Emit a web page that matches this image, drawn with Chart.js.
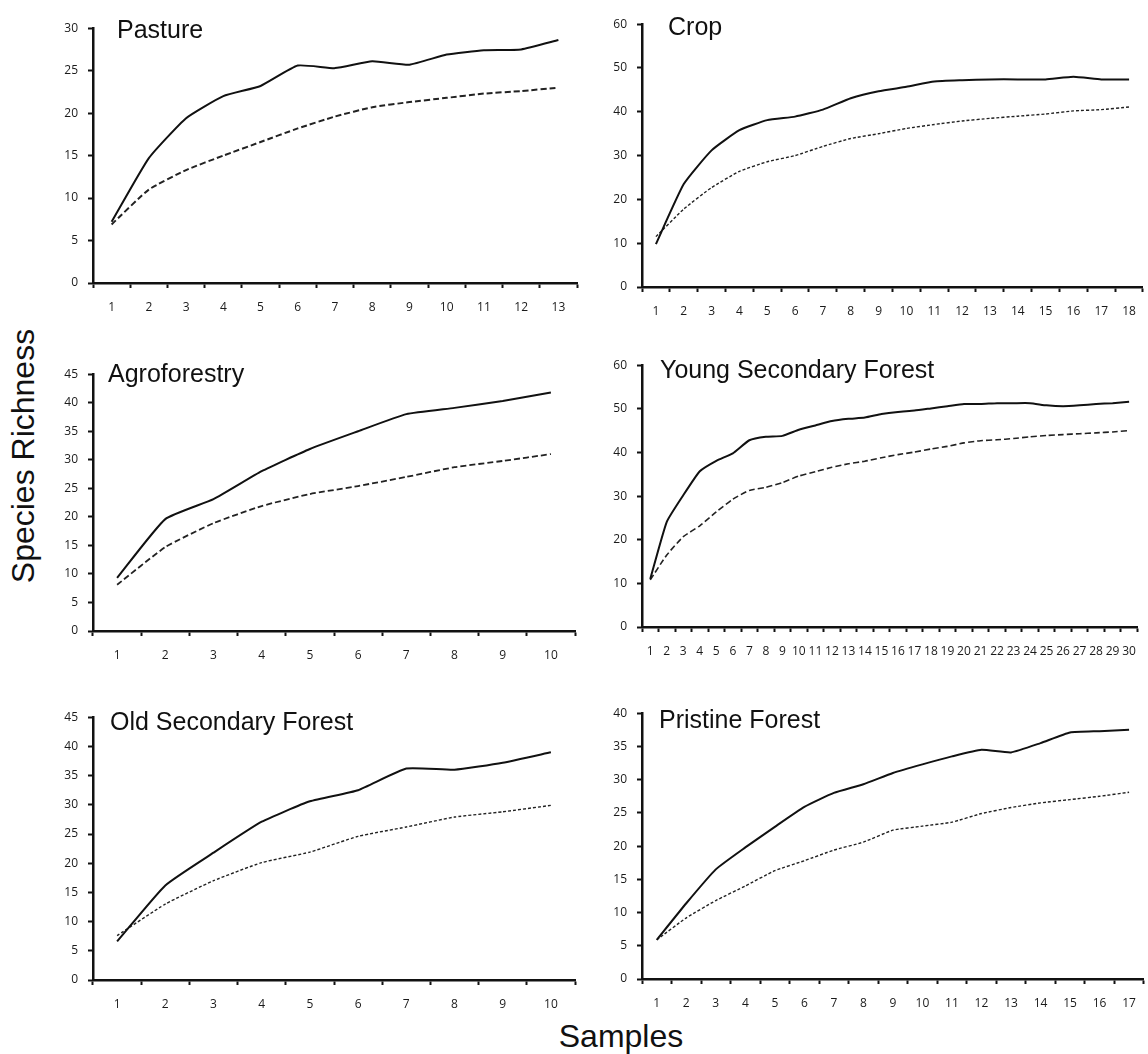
<!DOCTYPE html>
<html>
<head>
<meta charset="utf-8">
<script src="https://cdn.jsdelivr.net/npm/chart.js@4.4.1/dist/chart.umd.min.js"></script>
<style>
  html, body { margin: 0; padding: 0; background: #fff; }
  body { width: 1148px; height: 1054px; position: relative; overflow: hidden; font-family: "Liberation Sans", Arial, sans-serif; }
  .panel { position: absolute; }
  .title { position: absolute; font-size: 25px; line-height: 25px; color: #111; white-space: nowrap; }
  .axis-title { position: absolute; font-size: 32px; line-height: 32px; color: #111; white-space: nowrap; text-align: center; }
</style>
</head>
<body>
<div class="axis-title" style="left:-177px; top:440px; width:400px; transform:rotate(-90deg);">Species Richness</div>
<div class="axis-title" style="left:521px; top:1020px; width:200px;">Samples</div>

<script>
// sample numbers (x categories) for each habitat
const pastureSamples = ['1','2','3','4','5','6','7','8','9','10','11','12','13'];
const cropSamples = ['1','2','3','4','5','6','7','8','9','10','11','12','13','14','15','16','17','18'];
const agroSamples = ['1','2','3','4','5','6','7','8','9','10'];
const youngSamples = ['1','2','3','4','5','6','7','8','9','10','11','12','13','14','15',
                      '16','17','18','19','20','21','22','23','24','25','26','27','28','29','30'];
const oldSamples = ['1','2','3','4','5','6','7','8','9','10'];
const pristineSamples = ['1','2','3','4','5','6','7','8','9','10','11','12','13','14','15','16','17'];

// solid curve
const pastureSolid = [7.2, 14.7, 19.4, 22.0, 23.2, 25.6, 25.3, 26.1, 25.7, 26.9, 27.4, 27.5, 28.6];
const cropSolid = [9.8, 23.5, 31.2, 35.8, 38.1, 38.9, 40.5, 43.1, 44.7, 45.7, 46.9, 47.2, 47.4, 47.4, 47.4, 48.0, 47.4, 47.4];
const agroSolid = [9.3, 19.6, 23.1, 28.0, 31.9, 35.0, 38.0, 39.1, 40.3, 41.8];
const youngSolid = [11.0, 24.1, 30.2, 35.7, 38.1, 39.8, 42.8, 43.6, 43.8, 45.2, 46.2, 47.2, 47.7, 48.0, 48.8,
                    49.3, 49.6, 50.1, 50.6, 51.1, 51.1, 51.3, 51.3, 51.3, 50.8, 50.6, 50.8, 51.1, 51.3, 51.6];
const oldSolid = [6.6, 16.2, 21.8, 27.1, 30.6, 32.5, 36.2, 36.0, 37.2, 39.0];
const pristineSolid = [5.9, 11.4, 16.5, 19.8, 22.9, 25.9, 28.0, 29.3, 31.0, 32.3, 33.5, 34.5, 34.1, 35.5, 37.1, 37.3, 37.5];

// dashed curve
const pastureDashed = [6.9, 11.0, 13.3, 15.0, 16.6, 18.2, 19.6, 20.7, 21.3, 21.8, 22.3, 22.6, 23.0];
const cropDashed = [11.5, 17.8, 22.7, 26.4, 28.6, 30.0, 32.1, 33.9, 35.0, 36.2, 37.1, 37.9, 38.5, 39.0, 39.5, 40.2, 40.5, 41.1];
const agroDashed = [8.1, 14.7, 18.9, 21.9, 24.0, 25.4, 27.0, 28.7, 29.8, 31.0];
const youngDashed = [10.8, 16.5, 20.7, 23.2, 26.4, 29.3, 31.3, 32.0, 33.1, 34.6, 35.6, 36.6, 37.4, 38.0, 38.8,
                     39.5, 40.1, 40.8, 41.4, 42.2, 42.7, 42.9, 43.2, 43.6, 43.9, 44.1, 44.3, 44.5, 44.7, 45.0];
const oldDashed = [7.6, 13.0, 17.0, 20.1, 21.9, 24.6, 26.2, 27.9, 28.8, 29.9];
const pristineDashed = [5.9, 9.2, 11.8, 14.0, 16.3, 17.8, 19.4, 20.6, 22.4, 23.0, 23.6, 24.9, 25.8, 26.5, 27.0, 27.5, 28.1];

// y axis ranges
const yMax = [30, 60, 45, 60, 45, 40];
const yStep = [5, 10, 5, 10, 5, 5];

const panels = [
    { title: 'Pasture', labels: pastureSamples, solid: pastureSolid, dashed: pastureDashed,
      box: [93, 21, 283, 577], titleAt: [24, 17], dash: [6, 3], dashWidth: 2 },
    { title: 'Crop', labels: cropSamples, solid: cropSolid, dashed: cropDashed,
      box: [642, 17, 287, 1146], titleAt: [26, 18], dash: [3, 2], dashWidth: 1.4 },
    { title: 'Agroforestry', labels: agroSamples, solid: agroSolid, dashed: agroDashed,
      box: [93, 367, 631, 575], titleAt: [15, 15], dash: [6, 3], dashWidth: 1.8 },
    { title: 'Young Secondary Forest', labels: youngSamples, solid: youngSolid, dashed: youngDashed,
      box: [642, 358, 627, 1146], titleAt: [18, 20], dash: [6, 3], dashWidth: 1.6 },
    { title: 'Old Secondary Forest', labels: oldSamples, solid: oldSolid, dashed: oldDashed,
      box: [93, 710, 980, 575], titleAt: [17, 20], dash: [3, 2], dashWidth: 1.4 },
    { title: 'Pristine Forest', labels: pristineSamples, solid: pristineSolid, dashed: pristineDashed,
      box: [642, 706, 979, 1146], titleAt: [17, 22], dash: [3, 2], dashWidth: 1.4 }
];

const Y_BOX = 50;   // width reserved for y tick labels
const X_BOX = 40;   // height reserved for x tick labels
const PAD_TOP = 10;
const PAD_RIGHT = 2;
const tickFont = { family: 'Open Sans', size: 12 };

panels.forEach((p, i) => {
    const [axisLeft, axisTop, axisBottom, axisRight] = p.box;
    const left = axisLeft - Y_BOX;
    const top = axisTop - PAD_TOP;
    const width = axisRight + PAD_RIGHT - left;
    const height = axisBottom - axisTop + PAD_TOP + X_BOX;

    const wrap = document.createElement('div');
    wrap.className = 'panel';
    wrap.style.left = left + 'px';
    wrap.style.top = top + 'px';
    wrap.style.width = width + 'px';
    wrap.style.height = height + 'px';
    const canvas = document.createElement('canvas');
    canvas.width = width;
    canvas.height = height;
    wrap.appendChild(canvas);
    document.body.appendChild(wrap);

    // title sits inside the plot, baseline given relative to the axis corner
    const t = document.createElement('div');
    t.className = 'title';
    t.textContent = p.title;
    t.style.left = (axisLeft + p.titleAt[0]) + 'px';
    t.style.top = (axisTop + p.titleAt[1] - 21) + 'px';
    document.body.appendChild(t);

    new Chart(canvas, {
        type: 'line',
        data: {
            labels: p.labels,
            datasets: [{
                data: p.solid,
                borderColor: '#111',
                borderWidth: 2,
                fill: false
            }, {
                data: p.dashed,
                borderColor: '#222',
                borderWidth: p.dashWidth,
                borderDash: p.dash,
                fill: false
            }]
        },
        options: {
            responsive: false,
            animation: false,
            layout: { padding: { top: PAD_TOP, right: PAD_RIGHT, left: 0, bottom: 0 } },
            plugins: {
                legend: { display: false },
                tooltip: { enabled: false }
            },
            elements: {
                point: { radius: 0 },
                line: { tension: 0.15, borderJoinStyle: 'round' }
            },
            scales: {
                x: {
                    type: 'category',
                    offset: true,
                    grid: { drawOnChartArea: false, tickLength: 5, tickWidth: 2, tickColor: '#111', offset: true },
                    border: { color: '#111', width: 2.5 },
                    ticks: { autoSkip: false, maxRotation: 0, minRotation: 0, padding: 12, color: '#1a1a1a', font: tickFont },
                    afterFit(scale) { scale.height = X_BOX; }
                },
                y: {
                    min: 0,
                    max: yMax[i],
                    grid: { drawOnChartArea: false, tickLength: 5, tickWidth: 2, tickColor: '#111' },
                    border: { color: '#111', width: 2.5 },
                    ticks: { stepSize: yStep[i], padding: 10, color: '#1a1a1a', font: tickFont },
                    afterFit(scale) { scale.width = Y_BOX; }
                }
            }
        }
    });
});
</script>
</body>
</html>
